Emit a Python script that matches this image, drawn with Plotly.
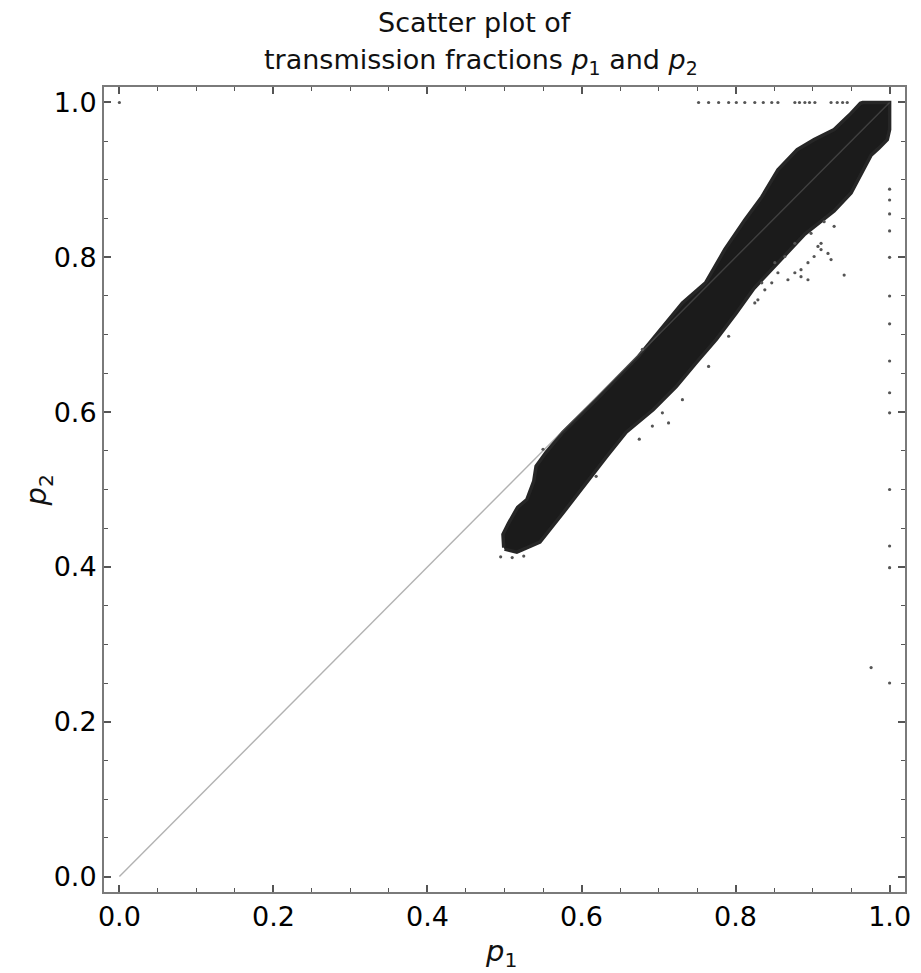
import plotly.graph_objects as go

# ---- data ----
tick_vals = [0.0, 0.2, 0.4, 0.6, 0.8, 1.0]
tick_text = ["0.0", "0.2", "0.4", "0.6", "0.8", "1.0"]

# outline of the dense point cloud (upper edge, tip -> top)
band_upper_p1 = [0.499, 0.498, 0.505, 0.517, 0.529, 0.538, 0.541, 0.554, 0.576, 0.619,
                 0.674, 0.731, 0.761, 0.786, 0.812, 0.834, 0.855, 0.880, 0.902, 0.928,
                 0.948, 0.962, 0.965]
band_upper_p2 = [0.425, 0.442, 0.456, 0.477, 0.487, 0.511, 0.530, 0.548, 0.574, 0.616,
                 0.672, 0.741, 0.767, 0.810, 0.848, 0.878, 0.913, 0.939, 0.952, 0.965,
                 0.984, 0.999, 1.000]
# lower edge, top -> tip
band_lower_p1 = [1.000, 1.000, 0.997, 0.986, 0.976, 0.950, 0.928, 0.890, 0.858, 0.824,
                 0.801, 0.775, 0.749, 0.723, 0.693, 0.658, 0.633, 0.603, 0.577, 0.546,
                 0.516, 0.500]
band_lower_p2 = [1.000, 0.965, 0.952, 0.941, 0.932, 0.883, 0.860, 0.830, 0.796, 0.760,
                 0.728, 0.694, 0.664, 0.633, 0.603, 0.574, 0.543, 0.504, 0.471, 0.432,
                 0.419, 0.423]

# isolated points
out_p1 = [0.752, 0.765, 0.778, 0.791, 0.801, 0.812, 0.825, 0.836, 0.847, 0.855,
          0.877, 0.883, 0.890, 0.896, 0.903, 0.924, 0.932, 0.939, 0.945,
          1.0, 1.0, 1.0, 1.0, 1.0, 1.0, 1.0, 1.0, 1.0, 1.0, 1.0, 1.0, 1.0, 1.0, 0.976,
          0.0,
          0.907, 0.911, 0.902, 0.894, 0.885, 0.877, 0.868, 0.855, 0.847, 0.838, 0.829,
          0.825, 0.894, 0.885, 0.920, 0.924, 0.928, 0.915, 0.898, 0.877, 0.864, 0.941,
          0.834, 0.851, 0.911,
          0.791, 0.765, 0.731, 0.705, 0.692, 0.675, 0.619, 0.713, 0.679, 0.550,
          0.495, 0.510, 0.525]
out_p2 = [1.0, 1.0, 1.0, 1.0, 1.0, 1.0, 1.0, 1.0, 1.0, 1.0,
          1.0, 1.0, 1.0, 1.0, 1.0, 1.0, 1.0, 1.0, 1.0,
          0.888, 0.874, 0.856, 0.834, 0.800, 0.750, 0.714, 0.666, 0.625, 0.599, 0.500,
          0.427, 0.399, 0.250, 0.270,
          1.0,
          0.814, 0.810, 0.801, 0.793, 0.784, 0.780, 0.771, 0.780, 0.767, 0.758, 0.745,
          0.741, 0.771, 0.775, 0.805, 0.797, 0.840, 0.846, 0.831, 0.818, 0.801, 0.777,
          0.767, 0.793, 0.818,
          0.698, 0.659, 0.616, 0.599, 0.582, 0.565, 0.517, 0.586, 0.681, 0.552,
          0.413, 0.412, 0.414]

diag_p = [0.0, 1.0]

# ---- figure ----
fig = go.Figure()

fig.add_trace(go.Scatter(
    x=band_upper_p1 + band_lower_p1,
    y=band_upper_p2 + band_lower_p2,
    mode="lines", fill="toself",
    fillcolor="#1b1b1b", line=dict(color="#262626", width=3.5),
    hoverinfo="skip", showlegend=False))

fig.add_trace(go.Scatter(
    x=out_p1, y=out_p2, mode="markers",
    marker=dict(size=3.2, color="#555555"),
    showlegend=False))

fig.add_trace(go.Scatter(
    x=diag_p, y=diag_p, mode="lines",
    line=dict(color="rgba(102,102,102,0.5)", width=1.4),
    showlegend=False))

axis_common = dict(
    range=[-0.02, 1.02], tickmode="array", tickvals=tick_vals, ticktext=tick_text,
    showgrid=False, zeroline=False,
    showline=True, linecolor="#7a7a7a", linewidth=2, mirror="allticks",
    ticks="inside", ticklen=7, tickwidth=1.5, tickcolor="#555555",
    tickfont=dict(family="DejaVu Sans", size=27, color="#000000"),
    minor=dict(tickmode="linear", tick0=0, dtick=0.05, ticks="inside",
               ticklen=4, tickwidth=1.2, tickcolor="#555555", showgrid=False),
)

fig.update_xaxes(**axis_common)
fig.update_yaxes(**axis_common)

fig.update_layout(
    width=921, height=973,
    margin=dict(l=104, r=10, t=87, b=81),
    plot_bgcolor="white", paper_bgcolor="white",
    showlegend=False,
)

plot_h = 973 - 87 - 81
def py_to_paper(py):
    return (973 - 81 - py) / plot_h
def px_to_paper(px):
    return (px - 104) / 807

fig.add_annotation(text="Scatter plot of", x=px_to_paper(478), y=py_to_paper(23),
                   xref="paper", yref="paper", showarrow=False,
                   xanchor="center", yanchor="middle",
                   font=dict(family="DejaVu Sans", size=27, color="#111111"))
fig.add_annotation(text="transmission fractions <i>p</i><sub>1</sub> and <i>p</i><sub>2</sub>",
                   x=px_to_paper(484), y=py_to_paper(61),
                   xref="paper", yref="paper", showarrow=False,
                   xanchor="center", yanchor="middle",
                   font=dict(family="DejaVu Sans", size=27, color="#111111"))
fig.add_annotation(text="<i>p</i><sub>1</sub>", x=px_to_paper(504), y=py_to_paper(953),
                   xref="paper", yref="paper", showarrow=False,
                   xanchor="center", yanchor="middle",
                   font=dict(family="DejaVu Sans", size=29, color="#111111"))
fig.add_annotation(text="<i>p</i><sub>2</sub>", x=px_to_paper(38), y=py_to_paper(490),
                   xref="paper", yref="paper", showarrow=False, textangle=-90,
                   xanchor="center", yanchor="middle",
                   font=dict(family="DejaVu Sans", size=29, color="#111111"))

fig.write_html("out.html")
